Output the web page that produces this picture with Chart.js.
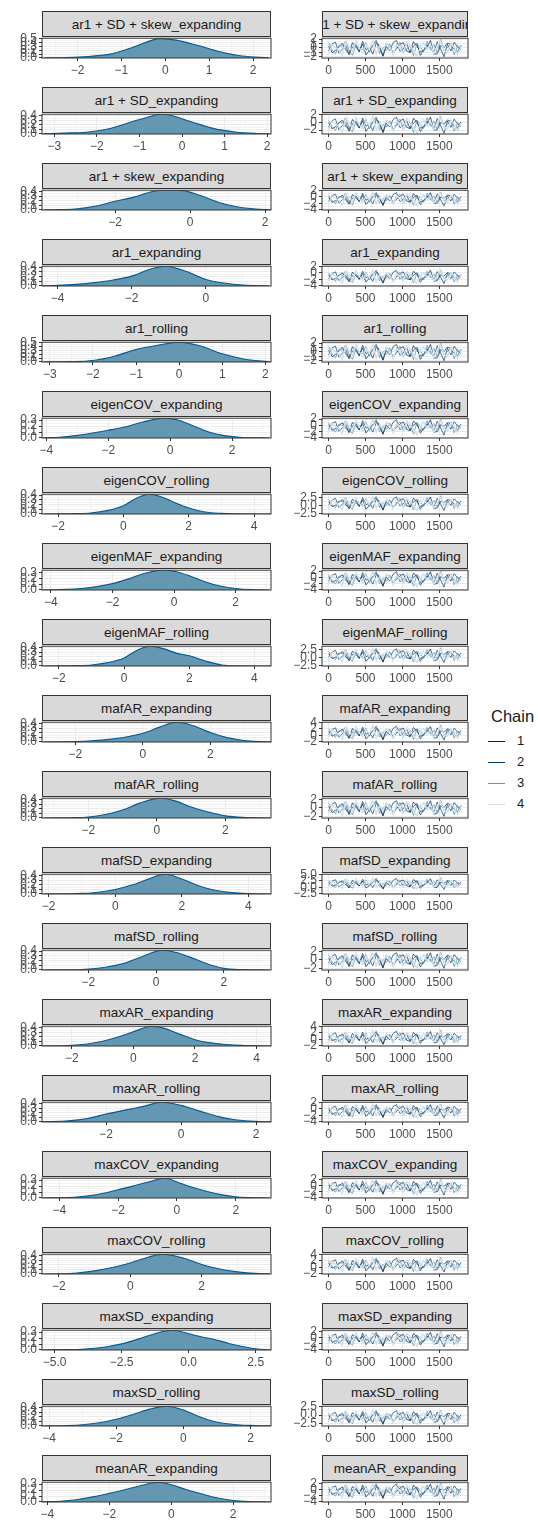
<!DOCTYPE html>
<html>
<head>
<meta charset="utf-8">
<script src="https://cdn.jsdelivr.net/npm/chart.js@4.4.1/dist/chart.umd.min.js"></script>
<style>
  body { margin: 0; background: #fff; width: 538px; height: 1526px; position: relative; overflow: hidden;
         font-family: "Liberation Sans", Arial, sans-serif; }
  .strip { position: absolute; height: 26px; box-sizing: border-box; border: 1px solid #333; background: #d9d9d9;
           color: #1a1a1a; font-size: 13.5px; display: flex; align-items: center; justify-content: center;
           overflow: hidden; white-space: nowrap; }
  canvas { position: absolute; }
  #legend { position: absolute; left: 486px; top: 707px; color: #1a1a1a; }
  #legend .title { font-size: 16.5px; margin-left: 5px; height: 24px; }
  #legend .item { position: relative; height: 21px; font-size: 13px; }
  #legend .key { position: absolute; left: 2px; top: 10px; width: 17px; height: 1.4px; }
  #legend .lab { position: absolute; left: 31px; top: 2px; }
</style>
</head>
<body>
<div id="legend"></div>
<script>
// parameter names (one row each)
const params = [
  'ar1 + SD + skew_expanding', 'ar1 + SD_expanding', 'ar1 + skew_expanding', 'ar1_expanding', 'ar1_rolling',
  'eigenCOV_expanding', 'eigenCOV_rolling', 'eigenMAF_expanding', 'eigenMAF_rolling', 'mafAR_expanding',
  'mafAR_rolling', 'mafSD_expanding', 'mafSD_rolling', 'maxAR_expanding', 'maxAR_rolling',
  'maxCOV_expanding', 'maxCOV_rolling', 'maxSD_expanding', 'maxSD_rolling', 'meanAR_expanding'
];

// posterior density curves (x, density)
const densX = [
  [-2.75,-2.25,-1.75,-1.25,-0.75,-0.1,0.25,0.75,1.25,1.75,2.35],
  [-3.25,-2.75,-2.25,-1.75,-1.25,-0.75,-0.5,-0.25,0.25,0.75,1.25,1.75,2.05],
  [-3.9,-3.5,-3,-2.5,-2,-1.5,-1,-0.6,-0.2,0.25,0.75,1.25,1.75,2.15],
  [-4.4,-4,-3.5,-3,-2.5,-2,-1.5,-1.1,-0.5,0,0.5,1,1.7],
  [-3.15,-2.5,-2,-1.5,-1,-0.5,0,0.5,1,1.5,2,2.1],
  [-4.1,-3.5,-3,-2.5,-2,-1.5,-1,-0.5,-0.2,0.25,0.75,1.25,1.75,2.25,2.75,3.2],
  [-2.45,-2,-1.5,-1,-0.5,0,0.4,0.8,1.2,1.6,2,2.5,3,3.5,4.5],
  [-4.25,-3.5,-3,-2.5,-2,-1.5,-1,-0.4,0,0.5,1,1.5,2,2.5,3.1],
  [-2.5,-2,-1.5,-1,-0.5,0,0.4,0.8,1.2,1.6,2,2.5,3,3.5,4.5],
  [-2.95,-2,-1.5,-1,-0.5,0,0.5,1,1.5,2,2.5,3,3.5,3.8],
  [-3.3,-2.5,-2,-1.5,-1,-0.5,0.1,0.5,1,1.5,2,2.5,3.3],
  [-2.15,-1.5,-1,-0.5,0,0.5,1,1.5,2,2.5,3,3.5,4,4.65],
  [-3.35,-2.5,-2,-1.5,-1,-0.5,0.2,0.6,1,1.5,2,2.5,3.35],
  [-2.95,-2,-1.5,-1,-0.5,0,0.6,1,1.5,2,2.5,3,3.5,4.45],
  [-3.7,-3,-2.5,-2,-1.5,-1,-0.5,0,0.5,1,1.5,2,2.4],
  [-4.55,-4,-3.5,-3,-2.5,-2,-1.5,-1,-0.4,0,0.5,1,1.5,2,2.5,3.15],
  [-2.45,-2,-1.5,-1,-0.5,0,0.5,0.9,1.5,2,2.5,3,3.5,3.9],
  [-5.45,-4.5,-4,-3.5,-3,-2.5,-2,-1.5,-1,-0.6,0,0.5,1,1.5,2,2.5,3.05],
  [-4.2,-3.5,-3,-2.5,-2,-1.5,-1,-0.5,0,0.5,1,1.5,2,2.6],
  [-4.15,-3.5,-3,-2.5,-2,-1.5,-1,-0.4,0,0.5,1,1.5,2,2.5,3.2]
];
const densY = [
  [0.003,0.012,0.04,0.1,0.27,0.5,0.46,0.32,0.16,0.05,0.005],
  [0.005,0.02,0.04,0.11,0.25,0.39,0.44,0.41,0.26,0.12,0.045,0.012,0.004],
  [0.002,0.009,0.026,0.086,0.19,0.28,0.4,0.43,0.42,0.32,0.17,0.07,0.02,0.004],
  [0.004,0.013,0.034,0.071,0.126,0.21,0.357,0.42,0.302,0.139,0.063,0.021,0.002],
  [0.002,0.01,0.04,0.15,0.32,0.43,0.51,0.41,0.21,0.077,0.015,0.01],
  [0.003,0.017,0.043,0.083,0.129,0.18,0.25,0.31,0.33,0.3,0.2,0.1,0.04,0.013,0.003,0.001],
  [0.001,0.003,0.008,0.021,0.071,0.176,0.336,0.42,0.357,0.231,0.126,0.042,0.013,0.004,0.0004],
  [0.001,0.01,0.027,0.058,0.109,0.187,0.279,0.34,0.323,0.245,0.143,0.068,0.027,0.007,0.001],
  [0.001,0.003,0.009,0.022,0.073,0.176,0.344,0.43,0.378,0.28,0.224,0.108,0.022,0.004,0.0004],
  [0.001,0.009,0.026,0.056,0.108,0.189,0.323,0.43,0.353,0.206,0.095,0.034,0.009,0.003],
  [0.001,0.006,0.022,0.077,0.172,0.323,0.43,0.378,0.241,0.129,0.047,0.013,0.001],
  [0.001,0.004,0.013,0.039,0.099,0.194,0.327,0.43,0.327,0.181,0.082,0.03,0.009,0.001],
  [0.001,0.006,0.021,0.059,0.134,0.26,0.42,0.37,0.273,0.134,0.034,0.008,0.001],
  [0.001,0.013,0.044,0.106,0.198,0.317,0.44,0.392,0.264,0.141,0.07,0.035,0.013,0.001],
  [0.004,0.026,0.079,0.176,0.264,0.348,0.44,0.37,0.242,0.119,0.044,0.013,0.004],
  [0.001,0.003,0.013,0.036,0.079,0.139,0.198,0.264,0.33,0.267,0.182,0.112,0.056,0.02,0.007,0.001],
  [0.001,0.004,0.022,0.07,0.145,0.246,0.374,0.44,0.352,0.211,0.11,0.048,0.013,0.004],
  [0.001,0.007,0.013,0.03,0.059,0.102,0.165,0.238,0.304,0.33,0.271,0.218,0.172,0.109,0.059,0.02,0.003],
  [0.001,0.009,0.026,0.069,0.146,0.249,0.366,0.43,0.348,0.194,0.082,0.034,0.013,0.002],
  [0.003,0.017,0.043,0.089,0.145,0.205,0.271,0.33,0.287,0.205,0.132,0.066,0.026,0.008,0.001]
];
const densXTicks = [
  [-2,-1,0,1,2], [-3,-2,-1,0,1,2], [-2,0,2], [-4,-2,0], [-3,-2,-1,0,1,2],
  [-4,-2,0,2], [-2,0,2,4], [-4,-2,0,2], [-2,0,2,4], [-2,0,2,4],
  [-2,0,2], [-2,0,2,4], [-2,0,2], [-2,0,2,4], [-2,0,2],
  [-4,-2,0,2], [-2,0,2], [-5,-2.5,0,2.5], [-4,-2,0,2], [-4,-2,0,2]
];
const densXRange = [
  [-2.81,2.41], [-3.29,2.09], [-3.95,2.16], [-4.42,1.76], [-3.18,2.13],
  [-4.14,3.26], [-2.49,4.52], [-4.29,3.15], [-2.52,4.51], [-2.99,3.8],
  [-3.35,3.33], [-2.2,4.68], [-3.37,3.39], [-2.97,4.47], [-3.71,2.4],
  [-4.59,3.2], [-2.47,3.94], [-5.47,3.07], [-4.21,2.61], [-4.17,3.22]
];
const densYMax = [0.51,0.44,0.43,0.42,0.51,0.33,0.42,0.34,0.43,0.43,0.43,0.43,0.42,0.44,0.44,0.33,0.44,0.33,0.43,0.33];

// trace plots: thinned draws of the 4 chains
const iterations = [1,47,93,139,185,231,277,323,369,415,461,507,553,599,645,691,737,783,829,875,
  921,967,1013,1059,1105,1151,1197,1243,1289,1335,1381,1427,1473,1519,1565,1611,1657,1703,1749,1795];
// draws for parameters centred near 0
const drawsA = [
  [0.4,-1.1,-0.6,0.3,1.0,-0.4,-1.3,1.2,0.2,-0.8,0.9,-1.6,-0.5,0.6,1.5,-0.1,-1.8,1.0,0.4,-1.2,-0.2,0.8,1.2,-0.7,-1.0,1.4,0.5,-0.9,-0.6,0.2,1.7,-1.5,-1.3,0.5,0.1,1.1,0.7,-0.3,-0.9,0.6],
  [-0.7,0.9,1.3,-1.2,-0.3,0.5,-1.6,0.2,0.8,-0.9,1.5,-0.4,0.0,-1.4,1.1,0.6,-1.9,0.3,-0.6,1.2,1.7,-0.8,-0.2,0.9,-1.1,0.4,1.0,-1.7,-0.5,0.7,0.1,-1.2,1.4,-0.3,-2.0,0.8,-0.7,1.3,0.2,-0.5],
  [1.1,-0.5,-1.4,0.6,0.3,1.6,-0.8,-1.7,0.7,-0.2,-0.4,1.2,-1.0,0.5,1.8,-1.3,0.1,-0.6,0.9,-1.5,0.4,1.3,-1.1,-0.3,0.6,-1.8,1.0,0.2,-0.9,1.5,-0.4,0.8,-1.2,1.9,-0.7,0.0,1.1,-1.6,0.5,-0.2],
  [-1.2,0.7,0.1,-0.5,-1.8,1.3,0.4,-0.9,1.6,0.0,-1.1,0.8,-0.3,1.9,-1.4,0.5,-0.7,1.1,0.3,-1.6,0.9,-0.1,-1.2,1.4,0.6,-0.8,-1.9,0.2,1.2,-0.4,0.7,-1.3,0.4,1.5,-0.6,-1.0,0.9,0.1,-1.5,0.3]
];
// draws for parameters centred near -0.5
const drawsB = [
  [-0.1,-1.7,-1.2,-0.2,0.5,-1.0,-1.9,0.7,-0.3,-1.4,0.4,-2.3,-1.1,0.1,1.1,-0.6,-2.5,0.5,-0.1,-1.8,-0.8,0.3,0.8,-1.3,-1.6,1.0,-0.1,-1.5,-1.2,-0.3,1.3,-2.1,-1.9,-0.1,-0.5,0.6,0.2,-0.9,-1.5,0.1],
  [-1.3,0.4,0.8,-1.9,-0.9,-0.1,-2.3,-0.4,0.3,-1.5,1.1,-1.0,-0.5,-2.1,0.6,0.1,-2.7,-0.3,-1.2,0.7,1.3,-1.4,-0.8,0.4,-1.7,-0.2,0.5,-2.4,-1.1,0.2,-0.4,-1.9,0.9,-0.9,-2.8,0.3,-1.3,0.8,-0.4,-1.1],
  [0.5,-1.1,-2.1,0.1,-0.3,1.2,-1.5,-2.5,0.2,-0.8,-1.0,0.7,-1.7,-0.1,1.4,-2.0,-0.5,-1.2,0.4,-2.2,-0.2,0.8,-1.8,-0.9,0.1,-2.6,0.5,-0.4,-1.6,1.1,-1.0,0.3,-1.9,1.5,-1.3,-0.6,0.6,-2.3,-0.1,-0.8],
  [-1.9,0.2,-0.5,-1.1,-2.6,0.9,-0.1,-1.6,1.2,-0.6,-1.8,0.3,-0.9,1.5,-2.1,-0.1,-1.3,0.6,-0.3,-2.3,0.4,-0.7,-1.9,1.0,0.1,-1.4,-2.7,-0.4,0.7,-1.0,0.2,-2.0,-0.2,1.1,-1.2,-1.7,0.4,-0.5,-2.2,-0.3]
];
// draws for ar1_expanding (centred near -1.1)
const drawsC = [
  [-0.6,-2.2,-1.7,-0.8,0.0,-1.5,-2.4,0.2,-0.9,-1.9,-0.2,-2.8,-1.6,-0.4,0.6,-1.2,-3.0,-0.1,-0.7,-2.3,-1.3,-0.3,0.3,-1.8,-2.1,0.5,-0.6,-2.0,-1.7,-0.9,0.8,-2.6,-2.4,-0.6,-1.0,0.1,-0.4,-1.4,-2.0,-0.5],
  [-1.8,-0.2,0.3,-2.4,-1.4,-0.7,-2.8,-0.9,-0.3,-2.0,0.5,-1.5,-1.0,-2.6,0.1,-0.5,-3.2,-0.8,-1.7,0.2,0.7,-1.9,-1.3,-0.2,-2.2,-0.7,0.0,-2.9,-1.6,-0.4,-0.9,-2.4,0.4,-1.4,-3.3,-0.2,-1.8,0.3,-0.9,-1.6],
  [0.0,-1.6,-2.6,-0.5,-0.8,0.6,-2.0,-3.0,-0.4,-1.3,-1.5,0.1,-2.2,-0.6,0.8,-2.5,-1.0,-1.7,-0.1,-2.7,-0.7,0.2,-2.3,-1.4,-0.5,-3.1,0.0,-0.9,-2.1,0.5,-1.5,-0.3,-2.4,0.9,-1.8,-1.1,0.1,-2.8,-0.6,-1.3],
  [-2.4,-0.4,-1.0,-1.6,-3.1,0.3,-0.6,-2.1,0.6,-1.1,-2.3,-0.3,-1.4,0.9,-2.6,-0.6,-1.8,0.0,-0.8,-2.8,-0.2,-1.2,-2.4,0.4,-0.5,-1.9,-3.2,-0.9,0.1,-1.5,-0.4,-2.5,-0.7,0.5,-1.7,-2.2,-0.2,-1.0,-2.7,-0.8]
];
// draws for wider parameters centred near -0.4
const drawsD = [
  [0.2,-1.6,-1.1,0.0,0.8,-0.9,-2.0,1.0,-0.1,-1.4,0.6,-2.4,-1.0,0.3,1.5,-0.5,-2.7,0.8,0.1,-1.9,-0.6,0.5,1.1,-1.3,-1.7,1.4,0.2,-1.6,-1.1,-0.1,1.8,-2.2,-2.0,0.2,-0.3,0.9,0.5,-0.8,-1.6,0.4],
  [-1.2,0.7,1.2,-1.9,-0.8,0.2,-2.4,-0.2,0.6,-1.5,1.5,-0.9,-0.3,-2.2,0.9,0.4,-2.9,0.0,-1.1,1.0,1.8,-1.4,-0.6,0.7,-1.7,0.1,0.8,-2.5,-1.0,0.5,-0.2,-1.9,1.3,-0.8,-3.1,0.6,-1.2,1.2,-0.2,-1.0],
  [0.8,-1.0,-2.2,0.4,-0.1,1.6,-1.5,-2.6,0.5,-0.6,-0.9,1.1,-1.7,0.1,1.9,-2.0,-0.3,-1.2,0.7,-2.3,0.0,1.2,-1.8,-0.8,0.4,-2.8,0.9,-0.2,-1.6,1.5,-0.9,0.6,-2.0,2.1,-1.3,-0.4,1.0,-2.4,0.2,-0.6],
  [-1.9,0.5,-0.3,-1.0,-2.7,1.3,0.1,-1.6,1.6,-0.4,-1.8,0.6,-0.8,2.0,-2.2,0.1,-1.3,1.0,-0.1,-2.4,0.7,-0.6,-2.0,1.4,0.4,-1.4,-2.9,-0.2,1.1,-0.9,0.5,-2.1,0.0,1.5,-1.2,-1.7,0.7,-0.4,-2.3,-0.1]
];
// draws for parameters centred near 0.9
const drawsE = [
  [1.3,-0.3,0.2,1.1,1.9,0.3,-0.7,2.1,1.0,-0.2,1.8,-1.1,0.1,1.5,2.5,0.7,-1.3,1.9,1.3,-0.6,0.6,1.7,2.2,0.0,-0.4,2.4,1.3,-0.3,0.2,1.1,2.7,-0.9,-0.7,1.4,0.9,2.0,1.6,0.5,-0.4,1.5],
  [0.2,1.8,2.3,-0.6,0.5,1.3,-1.0,1.0,1.7,-0.2,2.5,0.3,0.8,-0.8,2.0,1.5,-1.4,1.2,0.1,2.1,2.8,-0.1,0.6,1.8,-0.4,1.2,1.9,-1.1,0.3,1.6,1.0,-0.5,2.3,0.5,-1.5,1.7,0.1,2.2,1.0,0.3],
  [2.0,0.4,-0.7,1.5,1.2,2.6,-0.1,-1.1,1.6,0.6,0.3,2.2,-0.3,1.3,2.9,-0.6,1.0,0.0,1.9,-0.9,1.1,2.3,-0.5,0.5,1.4,-1.3,2.0,1.1,-0.2,2.5,0.3,1.7,-0.6,3.1,0.0,0.8,2.0,-0.9,1.3,0.6],
  [-0.5,1.6,0.9,0.2,-1.2,2.3,1.2,-0.2,2.6,0.8,-0.4,1.7,0.5,3.0,-0.8,1.3,0.1,2.0,1.0,-1.0,1.8,0.6,-0.6,2.4,1.4,0.0,-1.4,0.8,2.1,0.3,1.6,-0.7,1.1,2.5,0.2,-0.3,1.8,0.9,-0.8,1.0]
];
// draws for maxAR_expanding (centred near 0.6)
const drawsF = [
  [1.0,-0.5,0.0,0.9,1.6,0.1,-0.9,1.8,0.7,-0.4,1.5,-1.3,-0.2,1.2,2.2,0.4,-1.5,1.6,1.0,-0.8,0.3,1.4,1.9,-0.3,-0.7,2.1,1.0,-0.5,-0.1,0.8,2.4,-1.1,-0.9,1.1,0.6,1.7,1.3,0.2,-0.6,1.2],
  [-0.1,1.5,2.0,-0.8,0.2,1.0,-1.2,0.7,1.4,-0.4,2.2,0.0,0.5,-1.0,1.7,1.2,-1.6,0.9,-0.2,1.8,2.5,-0.3,0.3,1.5,-0.6,0.9,1.6,-1.3,0.0,1.3,0.7,-0.7,2.0,0.2,-1.7,1.4,-0.2,1.9,0.7,0.0],
  [1.7,0.1,-0.9,1.2,0.9,2.3,-0.3,-1.3,1.3,0.3,0.0,1.9,-0.5,1.0,2.6,-0.8,0.7,-0.3,1.6,-1.1,0.8,2.0,-0.7,0.2,1.1,-1.5,1.7,0.8,-0.4,2.2,0.0,1.4,-0.8,2.8,-0.3,0.5,1.7,-1.1,1.0,0.3],
  [-0.7,1.3,0.6,-0.1,-1.4,2.0,0.9,-0.4,2.3,0.5,-0.6,1.4,0.2,2.7,-1.0,1.0,-0.2,1.7,0.7,-1.2,1.5,0.3,-0.8,2.1,1.1,-0.3,-1.6,0.5,1.8,0.0,1.3,-0.9,0.8,2.2,-0.1,-0.6,1.5,0.6,-1.0,0.7]
];
// draws for mafSD_expanding (centred near 1.5)
const drawsG = [
  [1.9,0.4,0.9,1.8,2.5,1.0,0.0,2.7,1.6,0.5,2.4,-0.3,0.7,2.1,3.1,1.3,-0.5,2.5,1.9,0.1,1.2,2.3,2.8,0.6,0.2,3.0,1.9,0.4,0.8,1.7,3.3,-0.1,0.0,2.0,1.5,2.6,2.2,1.1,0.3,2.1],
  [0.8,2.4,2.9,0.1,1.1,1.9,-0.3,1.6,2.3,0.5,3.1,0.9,1.4,-0.1,2.6,2.1,-0.7,1.8,0.7,2.7,3.4,0.6,1.2,2.4,0.3,1.8,2.5,-0.4,0.9,2.2,1.6,0.2,2.9,1.1,-0.8,2.3,0.7,2.8,1.6,0.9],
  [2.6,1.0,0.0,2.1,1.8,3.2,0.6,-0.4,2.2,1.2,0.9,2.8,0.4,1.9,3.5,0.1,1.6,0.6,2.5,-0.2,1.7,2.9,0.2,1.1,2.0,-0.6,2.6,1.7,0.5,3.1,0.9,2.3,0.1,3.7,0.6,1.4,2.6,-0.2,1.9,1.2],
  [0.2,2.2,1.5,0.8,-0.5,2.9,1.8,0.5,3.2,1.4,0.3,2.3,1.1,3.6,-0.1,1.9,0.7,2.6,1.6,-0.3,2.4,1.2,0.1,3.0,2.0,0.6,-0.7,1.4,2.7,0.9,2.2,0.0,1.7,3.1,0.8,0.3,2.4,1.5,-0.1,1.6]
];
// which set of draws belongs to each parameter row
const panelDraws = [drawsA, drawsB, drawsB, drawsC, drawsA, drawsD, drawsE, drawsD, drawsE, drawsE,
  drawsA, drawsG, drawsA, drawsF, drawsB, drawsD, drawsE, drawsD, drawsB, drawsD];
const chainLabels = ['1', '2', '3', '4'];
const traceXTicks = [0, 500, 1000, 1500];
const traceXRange = [-90, 1890];
const traceYTicks = [
  [-2,-1,0,1,2], [-2,0,2], [-4,-2,0,2], [-4,-2,0,2], [-2,-1,0,1,2],
  [-4,-2,0,2], [-2.5,0,2.5], [-4,-2,0,2], [-2.5,0,2.5], [-2,0,2,4],
  [-2,0,2], [-2.5,0,2.5,5], [-2,0,2], [-2,0,2,4], [-4,-2,0,2],
  [-4,-2,0,2], [-2,0,2,4], [-4,-2,0,2], [-2.5,0,2.5], [-4,-2,0,2]
];
const traceYRange = [
  [-2.3,2.2], [-3.0,2.05], [-4.05,2.05], [-4.05,2.05], [-2.3,2.2],
  [-4.05,2.3], [-2.6,3.6], [-4.05,2.3], [-2.6,3.6], [-2.1,4.05],
  [-2.4,2.3], [-2.6,5.05], [-2.4,2.3], [-2.1,4.05], [-4.05,2.05],
  [-4.1,2.5], [-2.1,4.05], [-4.2,2.5], [-3.2,2.6], [-4.05,2.4]
];

const FONT = '"Liberation Sans", Arial, sans-serif';
const chainColors = ['#011f4b', '#03396c', '#6497b1', '#d1e1ec'];
const chainWidths = [0.7, 0.7, 0.8, 1.4];

function fmt(v, dec) {
  return (dec ? v.toFixed(1) : String(v)).replace('-', '\u2212');
}

// majors plus minor lines halfway between them, like ggplot
function tickSet(majors, min, max) {
  const half = (majors[1] - majors[0]) / 2;
  const out = [];
  for (let k = Math.ceil((min - majors[0]) / half - 1e-9); majors[0] + k * half <= max + 1e-9; k++) {
    out.push({ value: +(majors[0] + k * half).toFixed(6), isMinor: k % 2 !== 0 });
  }
  return out;
}

function axis(majors, min, max, fitFn) {
  const ticks = tickSet(majors, min, max);
  const dec = majors.some(v => !Number.isInteger(v));
  return {
    type: 'linear', min: min, max: max,
    afterBuildTicks: s => { s.ticks = ticks.map(t => ({ ...t })); },
    afterFit: fitFn,
    ticks: {
      autoSkip: false, maxRotation: 0, padding: 2, color: '#4d4d4d',
      font: { size: 12, family: FONT },
      callback: (v, i, arr) => arr[i].isMinor ? '' : fmt(v, dec)
    },
    grid: {
      color: '#ebebeb',
      lineWidth: c => (c.tick && c.tick.isMinor) ? 0.5 : 1,
      tickLength: 3,
      tickColor: c => (c.tick && c.tick.isMinor) ? 'rgba(0,0,0,0)' : '#333'
    },
    border: { display: false }
  };
}

const panelBorder = {
  id: 'panelBorder',
  afterDraw(chart) {
    const a = chart.chartArea, c = chart.ctx;
    c.save();
    c.strokeStyle = '#333';
    c.lineWidth = 1;
    c.strokeRect(a.left, a.top, a.right - a.left, a.bottom - a.top);
    c.restore();
  }
};

const columns = [
  { canvasLeft: 0, canvasWidth: 276, axisW: 42, panelLeft: 42, panelW: 229 },
  { canvasLeft: 276, canvasWidth: 197, axisW: 46, panelLeft: 322, panelW: 146 }
];

function addStrip(text, col, top) {
  const d = document.createElement('div');
  d.className = 'strip';
  d.style.left = col.panelLeft + 'px';
  d.style.width = col.panelW + 'px';
  d.style.top = top + 'px';
  d.textContent = text;
  document.body.appendChild(d);
}

function makeCanvas(col, panelTop) {
  const cv = document.createElement('canvas');
  cv.width = col.canvasWidth;
  cv.height = 57;
  cv.style.left = col.canvasLeft + 'px';
  cv.style.top = (panelTop - 8) + 'px';
  document.body.appendChild(cv);
  return cv;
}

function baseOptions(col, xAxis, yAxis) {
  return {
    responsive: false, animation: false, devicePixelRatio: 1,
    layout: { padding: { top: 8, right: col.canvasWidth - (col.panelLeft - col.canvasLeft) - col.panelW, left: 0, bottom: 0 } },
    plugins: { legend: { display: false }, tooltip: { enabled: false } },
    scales: { x: xAxis, y: yAxis }
  };
}

params.forEach((name, i) => {
  const stripTop = 11 + 76 * i;
  const panelTop = stripTop + 26;
  const fitX = s => { s.height = 28; };

  // left column: density
  const L = columns[0];
  addStrip(name, L, stripTop);
  const yMajors = [];
  for (let v = 0; v <= densYMax[i] + 1e-9; v += 0.1) yMajors.push(+v.toFixed(1));
  new Chart(makeCanvas(L, panelTop), {
    type: 'line',
    data: {
      datasets: [{
        data: densX[i].map((x, k) => ({ x: x, y: densY[i][k] })),
        borderColor: '#005b96', borderWidth: 1.1, backgroundColor: '#6497b1',
        fill: 'origin', pointRadius: 0, cubicInterpolationMode: 'monotone'
      }]
    },
    options: baseOptions(L,
      axis(densXTicks[i], densXRange[i][0], densXRange[i][1], fitX),
      axis(yMajors, 0, densYMax[i], s => { s.width = L.axisW; })),
    plugins: [panelBorder]
  });

  // right column: trace
  const R = columns[1];
  addStrip(name, R, stripTop);
  new Chart(makeCanvas(R, panelTop), {
    type: 'line',
    data: {
      datasets: panelDraws[i].map((draws, c) => ({
        label: chainLabels[c],
        data: iterations.map((it, k) => ({ x: it, y: draws[k] })),
        borderColor: chainColors[c], borderWidth: chainWidths[c], pointRadius: 0, fill: false,
        order: 3 - c
      }))
    },
    options: baseOptions(R,
      axis(traceXTicks, traceXRange[0], traceXRange[1], fitX),
      axis(traceYTicks[i], traceYRange[i][0], traceYRange[i][1], s => { s.width = R.axisW; })),
    plugins: [panelBorder]
  });
});

// legend
const legend = document.getElementById('legend');
legend.innerHTML = '<div class="title">Chain</div>' + chainLabels.map((lab, c) =>
  '<div class="item"><div class="key" style="background:' + chainColors[c] + '"></div><div class="lab">' + lab + '</div></div>'
).join('');
</script>
</body>
</html>
